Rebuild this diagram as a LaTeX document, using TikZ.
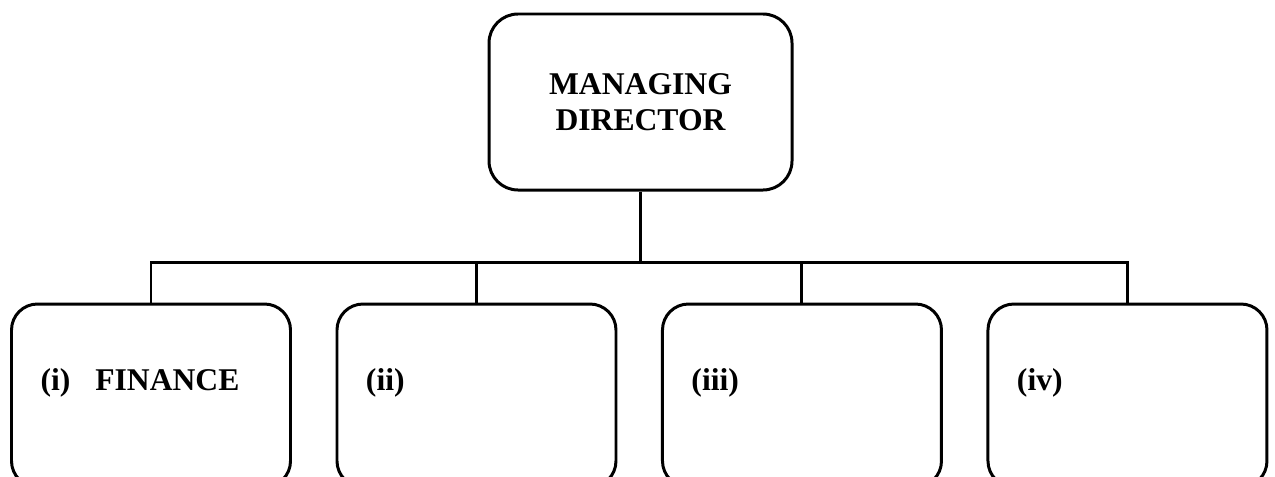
\documentclass[tikz,border=0pt]{standalone}
\usepackage{fontspec}
\setmainfont{Liberation Serif}
\usepackage{tikz}
\usetikzlibrary{positioning}
\tikzset{
  headbox/.style={rectangle, rounded corners=0.58cm, draw=black, line width=1.7pt,
              minimum width=6.06cm, minimum height=3.52cm, align=center,
              font=\fontsize{18}{20.5}\selectfont\bfseries},
  deptbox/.style={rectangle, rounded corners=0.52cm, draw=black, line width=1.7pt,
              inner xsep=0.58cm, text width=4.42cm, align=left,
              minimum height=3.66cm, text height=0.45cm, text depth=0.65cm,
              font=\fontsize{18}{20.5}\selectfont\bfseries},
  link/.style={draw=black, line width=1.7pt},
}
\begin{document}
\begin{tikzpicture}[node distance=0.87cm]
  \useasboundingbox (0,0) rectangle (25.5,-9.52);
  \node[headbox] (md) at (12.81,-2.04) {MANAGING\\DIRECTOR};
  \node[deptbox] (d1) at (3.02,-7.91) {(i)\hspace{0.5cm}FINANCE};
  \node[deptbox, right=of d1] (d2) {(ii)};
  \node[deptbox, right=of d2] (d3) {(iii)};
  \node[deptbox, right=of d3] (d4) {(iv)};
  \coordinate (bus) at (0,-5.24);
  \draw[link] (md.south) -- (md.south |- bus);
  \draw[link] (d1.north) |- (d4.north |- bus) -- (d4.north);
  \foreach \d in {d2,d3}
    \draw[link] (\d.north) -- (\d.north |- bus);
\end{tikzpicture}
\end{document}
